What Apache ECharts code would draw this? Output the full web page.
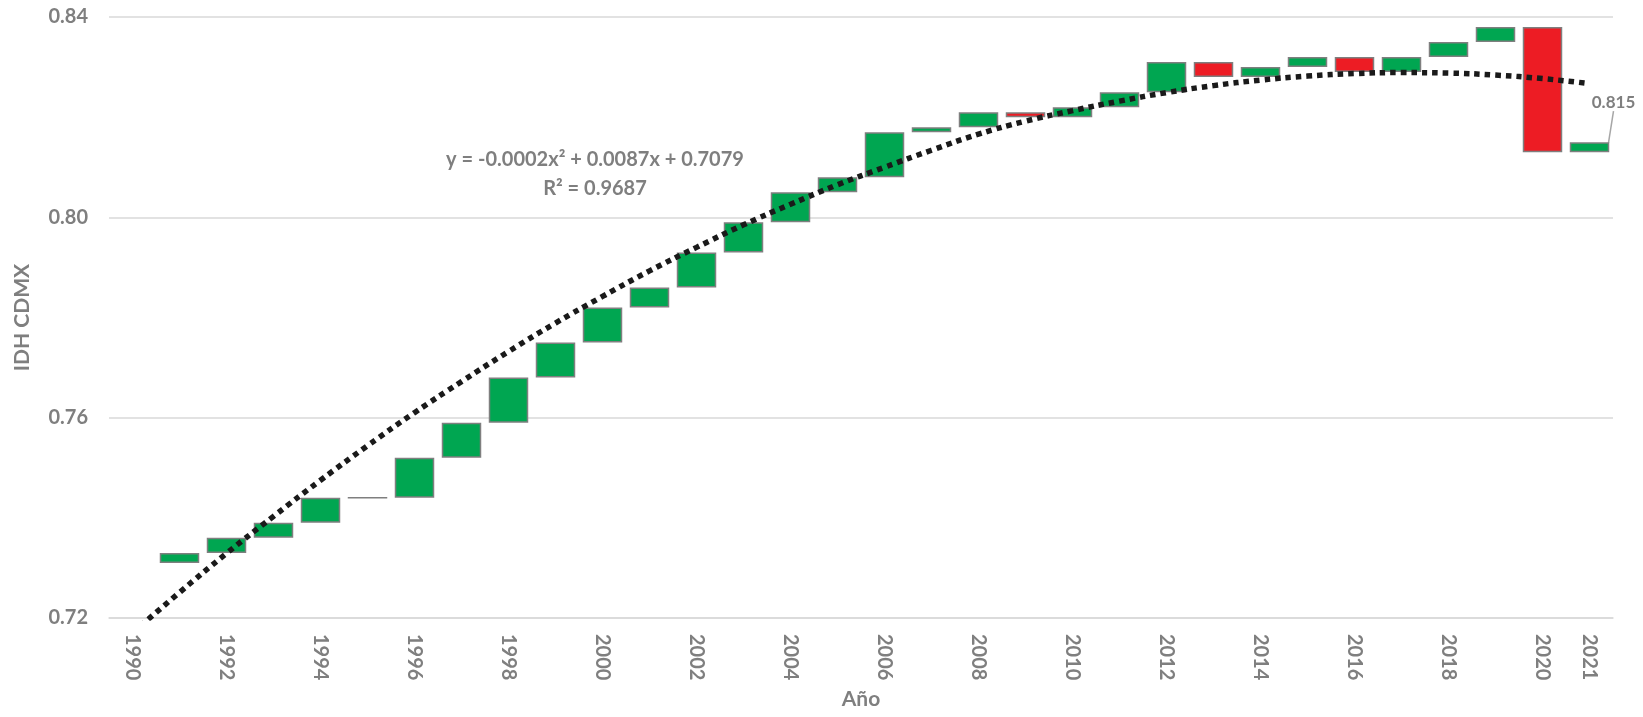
<!DOCTYPE html>
<html>
<head>
<meta charset="utf-8">
<title>IDH CDMX</title>
<script src="https://cdn.jsdelivr.net/npm/echarts@6/dist/echarts.min.js"></script>
<style>
  html, body { margin: 0; padding: 0; background: #fff; }
  #main { width: 1643px; height: 717px; }
</style>
</head>
<body>
<div id="main"></div>
<script>
// datos
var years = ['1990', '1991', '1992', '1993', '1994', '1995', '1996', '1997', '1998', '1999',
             '2000', '2001', '2002', '2003', '2004', '2005', '2006', '2007', '2008', '2009',
             '2010', '2011', '2012', '2013', '2014', '2015', '2016', '2017', '2018', '2019',
             '2020', '2021'];
var idh = [0.731, 0.733, 0.736, 0.739, 0.744, 0.744, 0.752, 0.759, 0.768, 0.775,
           0.782, 0.786, 0.793, 0.799, 0.805, 0.808, 0.817, 0.818, 0.821, 0.820,
           0.822, 0.825, 0.831, 0.828, 0.830, 0.832, 0.829, 0.832, 0.835, 0.838,
           0.813, 0.815];
// linea de tendencia (polinomica)
var trend = [0.7170, 0.7251, 0.7329, 0.7403, 0.7475, 0.7544, 0.7610, 0.7672, 0.7732, 0.7789,
             0.7842, 0.7893, 0.7940, 0.7985, 0.8026, 0.8065, 0.8100, 0.8134, 0.8166, 0.8192,
             0.8213, 0.8232, 0.8249, 0.8263, 0.8274, 0.8282, 0.8287, 0.8289, 0.8288, 0.8284,
             0.8277, 0.8267];
var yTicks = [0.72, 0.76, 0.80, 0.84];
var trendText = ['y = -0.0002x\u00B2 + 0.0087x + 0.7079', 'R\u00B2 = 0.9687'];

var green = '#00A651';
var red = '#ED1C24';
var gray = '#7F7F7F';
var font = 'Lato';

// cascada: base invisible + diferencia visible
var baseVals = [];
var deltaVals = [];
for (var i = 0; i < idh.length; i++) {
    if (i === 0) {
        baseVals.push('-');
        deltaVals.push('-');
        continue;
    }
    var prev = idh[i - 1], cur = idh[i];
    var item = {
        value: +Math.abs(cur - prev).toFixed(4),
        itemStyle: { color: cur >= prev ? green : red }
    };
    if (i === idh.length - 1) {
        item.label = { show: true, formatter: idh[i].toFixed(3) };
    }
    baseVals.push(Math.min(prev, cur));
    deltaVals.push(item);
}

var myChart = echarts.init(document.getElementById('main'));

var option = {
    animation: false,
    grid: { left: 109, right: 30, top: 17, bottom: 99 },
    xAxis: {
        type: 'category',
        data: years,
        name: 'Año',
        nameLocation: 'middle',
        nameGap: 70,
        nameTextStyle: { color: gray, fontFamily: font, fontWeight: 'bold', fontSize: 21 },
        axisLine: { lineStyle: { color: '#D9D9D9', width: 1.5 } },
        axisTick: { show: false },
        axisLabel: {
            rotate: -90,
            margin: 16,
            color: gray,
            fontFamily: font,
            fontWeight: 'bold',
            fontSize: 20,
            interval: function (index) {
                return index % 2 === 0 || index === years.length - 1;
            }
        }
    },
    yAxis: {
        type: 'value',
        min: yTicks[0],
        max: yTicks[yTicks.length - 1],
        interval: 0.04,
        name: 'IDH CDMX',
        nameLocation: 'middle',
        nameGap: 76,
        nameTextStyle: { color: gray, fontFamily: font, fontWeight: 'bold', fontSize: 21 },
        axisLine: { show: false },
        axisTick: { show: false },
        splitLine: { lineStyle: { color: '#D9D9D9', width: 1.5 } },
        axisLabel: {
            margin: 21,
            color: gray,
            fontFamily: font,
            fontWeight: 'bold',
            fontSize: 20,
            formatter: function (v) { return v.toFixed(2); }
        }
    },
    series: [
        {
            name: 'base',
            type: 'bar',
            stack: 'wf',
            barCategoryGap: '16%',
            itemStyle: { color: 'transparent', borderColor: 'transparent' },
            data: baseVals
        },
        {
            name: 'IDH',
            type: 'bar',
            stack: 'wf',
            barCategoryGap: '16%',
            itemStyle: { borderColor: '#7F7F7F', borderWidth: 1.5 },
            label: {
                position: 'top',
                color: gray,
                fontFamily: font,
                fontWeight: 'bold',
                fontSize: 17
            },
            labelLayout: { dx: 24, dy: -26 },
            labelLine: { show: true, lineStyle: { color: '#A6A6A6', width: 1.5 } },
            data: deltaVals
        },
        {
            name: 'Tendencia',
            type: 'line',
            smooth: true,
            symbol: 'none',
            clip: true,
            z: 5,
            lineStyle: { color: '#1A1A1A', width: 5.5, type: [5.5, 5], cap: 'butt' },
            data: trend
        }
    ],
    graphic: [
        {
            type: 'text',
            x: 595,
            y: 174,
            style: {
                text: trendText.join('\n'),
                align: 'center',
                verticalAlign: 'middle',
                lineHeight: 29,
                font: 'bold 20px Lato',
                fill: gray
            }
        }
    ]
};

myChart.setOption(option);
</script>
</body>
</html>
